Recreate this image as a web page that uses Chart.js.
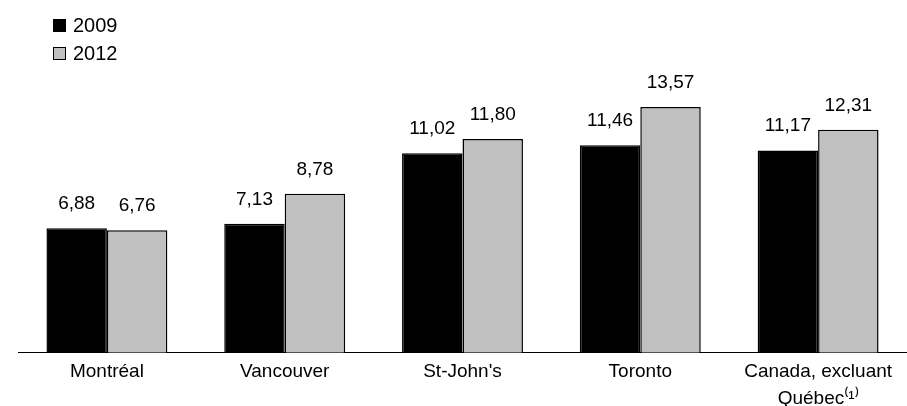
<!DOCTYPE html>
<html>
<head>
<meta charset="utf-8">
<script src="https://cdn.jsdelivr.net/npm/chart.js@4/dist/chart.umd.min.js"></script>
<style>
  html, body { margin: 0; padding: 0; background: #fff; overflow: hidden; }
  #wrap { position: relative; width: 907px; height: 406px; overflow: hidden; }
  #legend { position: absolute; left: 53px; top: 11px; font-family: "Liberation Sans", Arial, sans-serif; font-size: 20px; color: #000; }
  #legend div { height: 28px; display: flex; align-items: center; }
  #legend span.box { display: inline-block; width: 11px; height: 11px; border: 1px solid #000; margin-right: 7px; }
</style>
</head>
<body>
<div id="wrap">
  <canvas id="bar-chart" width="907" height="418"></canvas>
  <div id="legend"></div>
</div>
<script>
const categories = ['Montréal', 'Vancouver', "St-John's", 'Toronto', ['Canada, excluant', 'Québec⁽¹⁾']];
const seriesNames = ['2009', '2012'];
const values2009 = [6.88, 7.13, 11.02, 11.46, 11.17];
const values2012 = [6.76, 8.78, 11.80, 13.57, 12.31];
const colors = ['#000000', '#c0c0c0'];

const legendEl = document.getElementById('legend');
seriesNames.forEach((name, i) => {
    const row = document.createElement('div');
    row.innerHTML = '<span class="box" style="background:' + colors[i] + '"></span>' + name;
    legendEl.appendChild(row);
});

// value labels above each bar, french decimal comma
const valueLabels = {
    id: 'valueLabels',
    afterDatasetsDraw(chart) {
        const ctx = chart.ctx;
        ctx.save();
        ctx.font = '19px "Liberation Sans", Arial, sans-serif';
        ctx.fillStyle = '#000';
        ctx.textAlign = 'center';
        ctx.textBaseline = 'alphabetic';
        chart.data.datasets.forEach((ds, i) => {
            chart.getDatasetMeta(i).data.forEach((bar, j) => {
                ctx.fillText(ds.data[j].toFixed(2).replace('.', ','), bar.x, bar.y - 19);
            });
        });
        ctx.restore();
    }
};

const ctx = document.getElementById('bar-chart').getContext('2d');

new Chart(ctx, {
    type: 'bar',
    data: {
        labels: categories,
        datasets: [{
            label: seriesNames[0],
            data: values2009,
            backgroundColor: colors[0],
            borderColor: '#000',
            borderWidth: 1.5
        }, {
            label: seriesNames[1],
            data: values2012,
            backgroundColor: colors[1],
            borderColor: '#000',
            borderWidth: 1.5
        }]
    },
    options: {
        responsive: false,
        animation: false,
        layout: { padding: { left: 18, right: 0, top: 63, bottom: 0 } },
        categoryPercentage: 0.68,
        barPercentage: 1,
        plugins: {
            legend: { display: false },
            tooltip: { enabled: false }
        },
        scales: {
            x: {
                grid: { display: false, drawTicks: false },
                border: { display: true, color: '#000', width: 1 },
                ticks: {
                    color: '#000',
                    padding: 6,
                    maxRotation: 0,
                    font: { family: '"Liberation Sans", Arial, sans-serif', size: 19, lineHeight: 1.4 }
                }
            },
            y: {
                display: false,
                min: 0,
                max: 16
            }
        }
    },
    plugins: [valueLabels]
});
</script>
</body>
</html>
